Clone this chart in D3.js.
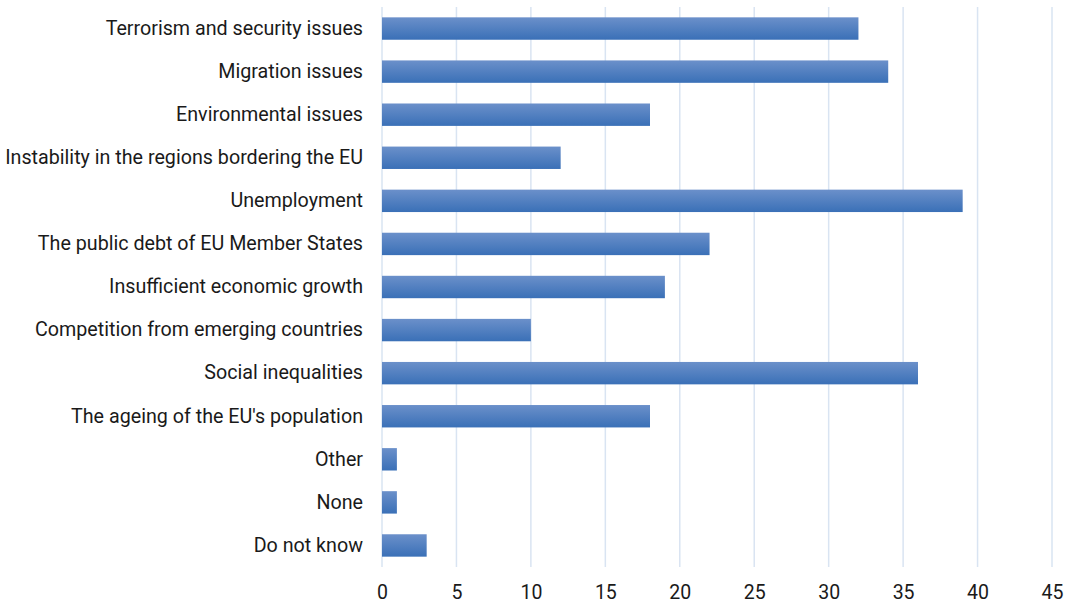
<!DOCTYPE html>
<html>
<head>
<meta charset="utf-8">
<script src="https://cdn.jsdelivr.net/npm/d3@7"></script>
<style>
  html, body { margin: 0; padding: 0; background: #fff; }
  svg text { font-family: Roboto, "Noto Sans", sans-serif; fill: #1a1a1a; }
</style>
</head>
<body>
<svg id="chart" width="1075" height="603"></svg>
<script>
const categories = [
  "Terrorism and security issues",
  "Migration issues",
  "Environmental issues",
  "Instability in the regions bordering the EU",
  "Unemployment",
  "The public debt of EU Member States",
  "Insufficient economic growth",
  "Competition from emerging countries",
  "Social inequalities",
  "The ageing of the EU's population",
  "Other",
  "None",
  "Do not know"
];
const values = [32, 34, 18, 12, 39, 22, 19, 10, 36, 18, 1, 1, 3];
const xTicks = [0, 5, 10, 15, 20, 25, 30, 35, 40, 45];

const svg = d3.select("#chart");
const margin = { top: 7, right: 23, bottom: 36, left: 382 };
const width = 1075 - margin.left - margin.right;
const height = 603 - margin.top - margin.bottom;

const defs = svg.append("defs");
const grad = defs.append("linearGradient")
  .attr("id", "barFill").attr("x1", 0).attr("y1", 0).attr("x2", 0).attr("y2", 1);
grad.append("stop").attr("offset", "0%").attr("stop-color", "#6b90ca");
grad.append("stop").attr("offset", "100%").attr("stop-color", "#3a70b7");

const g = svg.append("g").attr("transform", `translate(${margin.left},${margin.top})`);

const x = d3.scaleLinear().domain([0, 45]).range([0, width]);
const y = d3.scaleBand().domain(categories).range([0, height]).paddingInner(0.48).paddingOuter(0.24);

// vertical gridlines
g.append("g").selectAll("line").data(xTicks).join("line")
  .attr("x1", d => x(d)).attr("x2", d => x(d))
  .attr("y1", 0).attr("y2", height)
  .attr("stroke", "#d9e4f2").attr("stroke-width", 1.5);

// bars
g.append("g").selectAll("rect").data(values).join("rect")
  .attr("x", x(0))
  .attr("y", (d, i) => y(categories[i]))
  .attr("width", d => x(d) - x(0))
  .attr("height", y.bandwidth())
  .attr("fill", "url(#barFill)");

// category labels
const yAxis = g.append("g").call(d3.axisLeft(y).tickSize(0).tickPadding(19));
yAxis.select(".domain").remove();
yAxis.selectAll("text").style("font-size", "19.7px").attr("fill", "#1a1a1a");

// value axis
const xAxis = g.append("g").attr("transform", `translate(0,${height})`)
  .call(d3.axisBottom(x).tickValues(xTicks).tickSize(0).tickPadding(18));
xAxis.select(".domain").remove();
xAxis.selectAll("text").style("font-size", "19.5px").attr("fill", "#1a1a1a");
</script>
</body>
</html>
